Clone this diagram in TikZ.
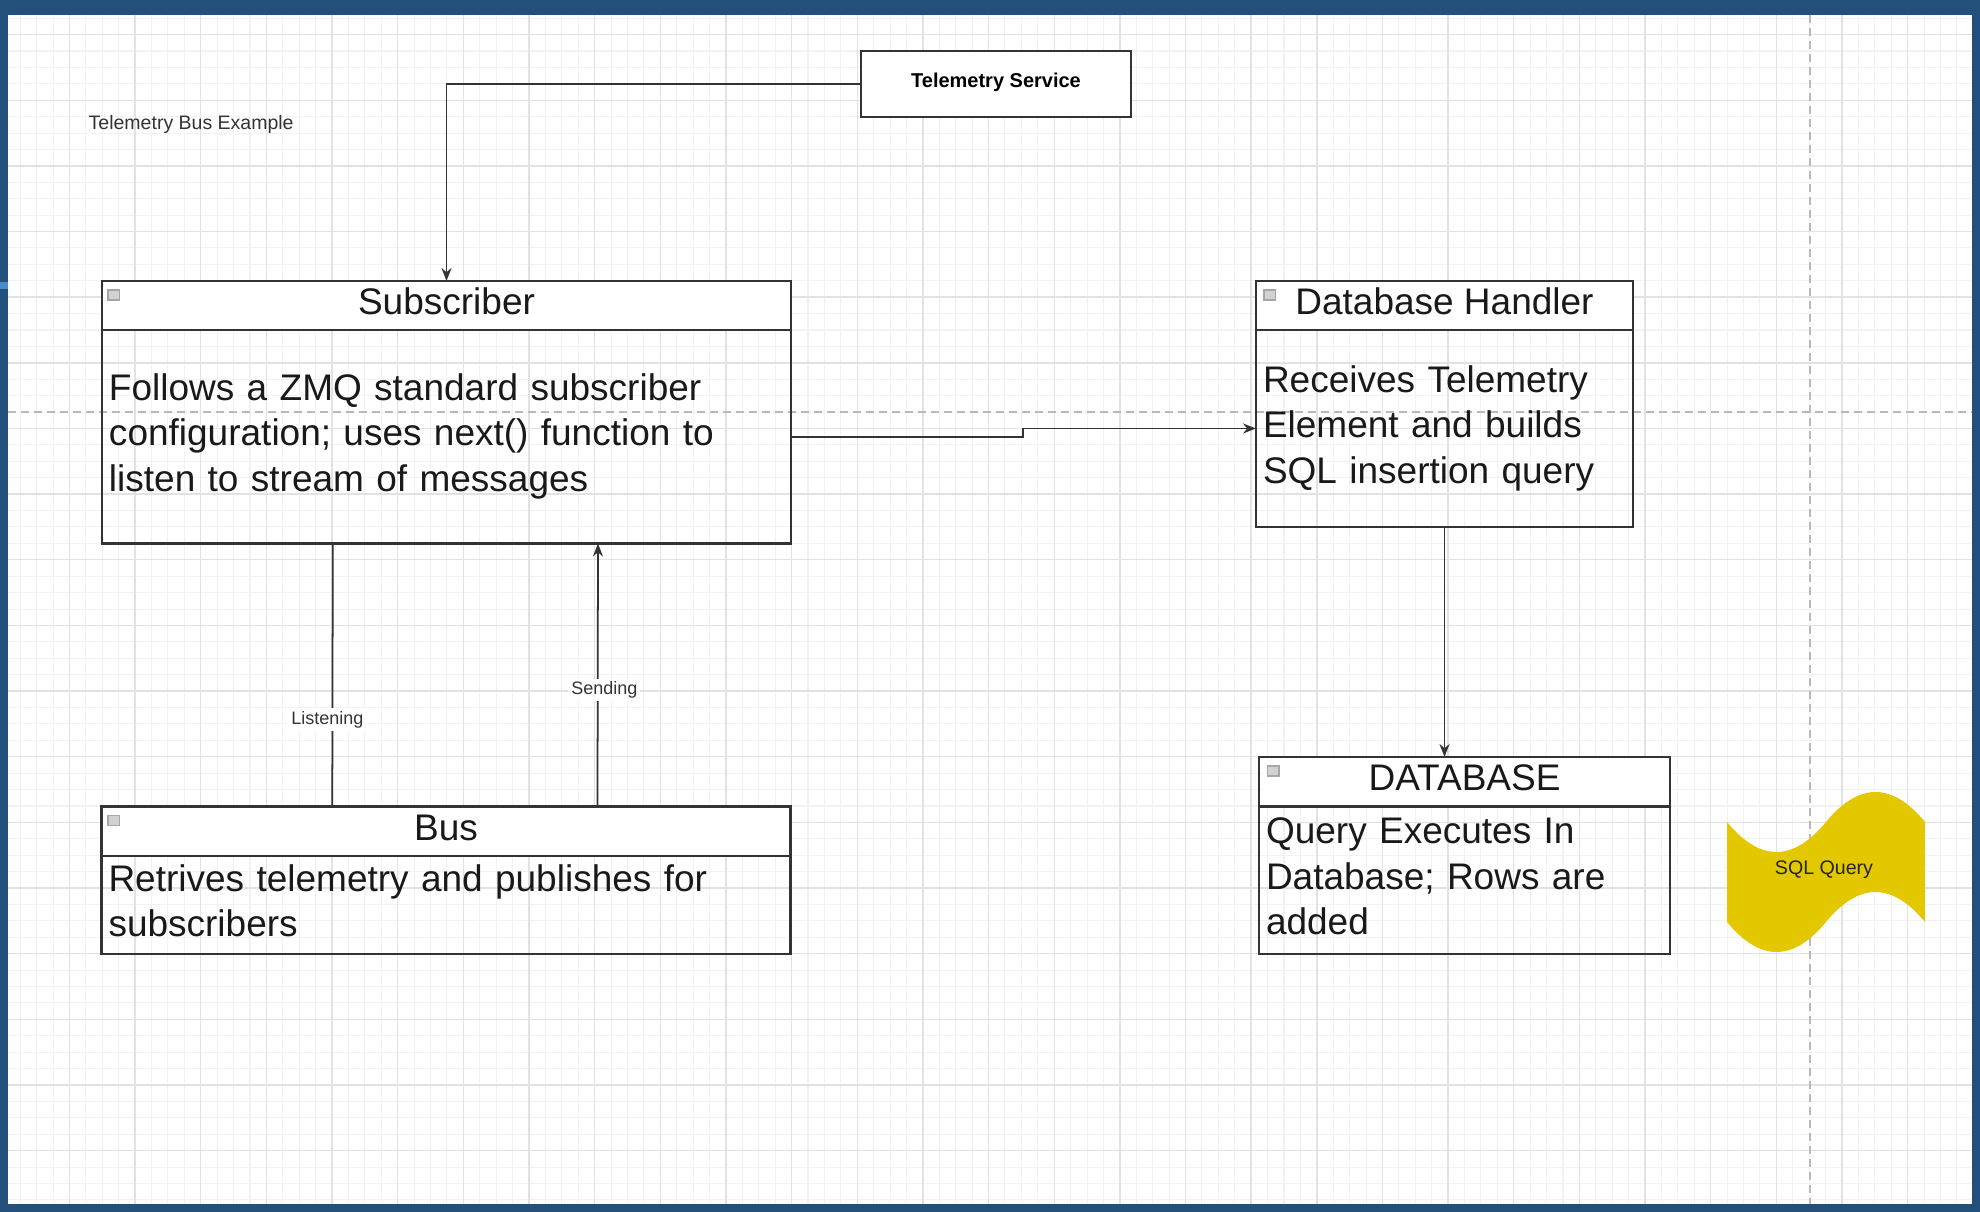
\documentclass[tikz,border=0pt]{standalone}
\usepackage{fontspec}
\setmainfont{Liberation Sans}
\usetikzlibrary{arrows.meta}

\definecolor{frameblue}{RGB}{34,80,122}
\definecolor{markblue}{RGB}{70,140,205}
\definecolor{majorgrid}{RGB}{226,226,226}
\definecolor{minorgrid}{RGB}{242,242,242}
\definecolor{pagebreak}{RGB}{185,185,185}
\definecolor{lineclr}{RGB}{51,51,51}
\definecolor{sqlyellow}{RGB}{227,200,0}
\newcommand{\bigtext}{\fontsize{10.53}{12.95}\selectfont}

\begin{document}
\begin{tikzpicture}[x=0.1mm,y=-0.1mm,
  boxhead/.style={draw=lineclr,line width=0.6pt,fill=white,anchor=north west,inner sep=0pt,outer sep=0pt,
    font=\bigtext,text=black!90,execute at begin node=\strut},
  boxbody/.style={draw=lineclr,line width=0.6pt,anchor=north west,inner xsep=0.7mm,inner ysep=0pt,outer sep=0pt,
    align=left,font=\bigtext,text=black!90,execute at begin node=\strut,execute at end node=\strut},
  conn/.style={draw=lineclr,line width=0.5pt},
  arrowtip/.style={-{Stealth[length=1.3mm,width=1.0mm]}},
  lbl/.style={fill=white,inner sep=0.3mm,font=\fontsize{5.12}{6}\selectfont,text=black!80},
  iconbox/.style={draw=gray!70,fill=gray!35,line width=0.3pt},
]
\useasboundingbox (0,0) rectangle (1980,1212);

% frame and canvas
\fill[frameblue] (0,0) rectangle (1980,1212);
\fill[white] (8,15) rectangle (1972,1204);
\fill[markblue] (0,282) rectangle (8,289);

% grid
\foreach \i in {1,...,119}
  \draw[minorgrid,line width=0.3pt] ({3.8+16.4125*\i},15) -- ({3.8+16.4125*\i},1204);
\foreach \i in {-1,...,71}
  \draw[minorgrid,line width=0.3pt] (8,{34.6+16.4125*\i}) -- (1972,{34.6+16.4125*\i});
\foreach \i in {1,...,29}
  \draw[majorgrid,line width=0.4pt] ({3.8+65.65*\i},15) -- ({3.8+65.65*\i},1204);
\foreach \i in {0,...,17}
  \draw[majorgrid,line width=0.4pt] (8,{34.6+65.65*\i}) -- (1972,{34.6+65.65*\i});

% page breaks
\draw[pagebreak,line width=0.5pt,dash pattern=on 0.8mm off 0.5mm] (8,412) -- (1972,412);
\draw[pagebreak,line width=0.5pt,dash pattern=on 0.8mm off 0.5mm] (1810,15) -- (1810,1204);

\node[anchor=base west,inner sep=0pt,font=\fontsize{5.55}{7}\selectfont,text=black!80] (title) at (88,129.5) {Telemetry Bus Example};

\node[draw=lineclr,line width=0.6pt,fill=white,anchor=north west,inner sep=0pt,outer sep=0pt,
  minimum width=27mm,minimum height=6.6mm,text height=1.6mm,text depth=0.95mm,
  font=\bfseries\fontsize{5.69}{7}\selectfont] (ts) at (861,51) {Telemetry Service};

\node[boxhead,minimum width=68.9mm,minimum height=4.9mm] (subhead) at (102,281) {Subscriber};
\node[boxbody,minimum width=68.9mm,minimum height=21.35mm,text width=67.5mm] (sub) at (102,330)
  {Follows a ZMQ standard subscriber\\configuration; uses next() function to\\listen to stream of messages};

\node[boxhead,minimum width=37.7mm,minimum height=4.9mm] (dhhead) at (1256,281) {Database Handler};
\node[boxbody,minimum width=37.7mm,minimum height=19.7mm,text width=36.3mm] (dh) at (1256,330)
  {Receives Telemetry\\Element and builds\\SQL insertion query};

\node[boxhead,minimum width=41.1mm,minimum height=4.95mm] (dbhead) at (1259,757) {DATABASE};
\node[boxbody,minimum width=41.1mm,minimum height=14.75mm,text width=39.7mm] (db) at (1259,806.5)
  {Query Executes In\\Database; Rows are\\added};

\node[boxhead,minimum width=68.9mm,minimum height=4.95mm] (bushead) at (101.5,806.5) {Bus};
\node[boxbody,minimum width=68.9mm,minimum height=9.8mm,text width=67.5mm] (bus) at (101.5,856)
  {Retrives telemetry and publishes for\\subscribers};

\foreach \h/\dx in {subhead/0.6,bushead/0.65,dhhead/0.8,dbhead/0.85}
  \draw[iconbox] ([xshift=\dx mm,yshift=-0.9mm]\h.north west) rectangle ++(1.15mm,-1.0mm);

% tape shape
\fill[sqlyellow] (1727,822) .. controls (1760,862) and (1793,862) .. (1826,822)
  .. controls (1859,782) and (1892,782) .. (1925,822) -- (1925,922)
  .. controls (1892,882) and (1859,882) .. (1826,922)
  .. controls (1793,962) and (1760,962) .. (1727,922) -- cycle;
\node[font=\fontsize{5.58}{7}\selectfont,text=black!85] (sqlq) at (1824,870) {SQL Query};

% connectors
\draw[conn,arrowtip] (ts.west) -| (subhead.north);
\draw[conn,arrowtip] (sub.east) -- ++(232,0) |- (dh.west);
\draw[conn,arrowtip] (dh.south) -- (dh.south |- dbhead.north);
\draw[conn] ([xshift=23.08mm]bushead.north west) -- node[lbl,pos=0.33,xshift=-0.5mm] {Listening} ([xshift=23.08mm]sub.south west);
\draw[conn,arrowtip] ([xshift=49.6mm]bushead.north west) -- node[lbl,pos=0.443,xshift=0.66mm] {Sending} ([xshift=49.6mm]sub.south west);
\end{tikzpicture}
\end{document}
